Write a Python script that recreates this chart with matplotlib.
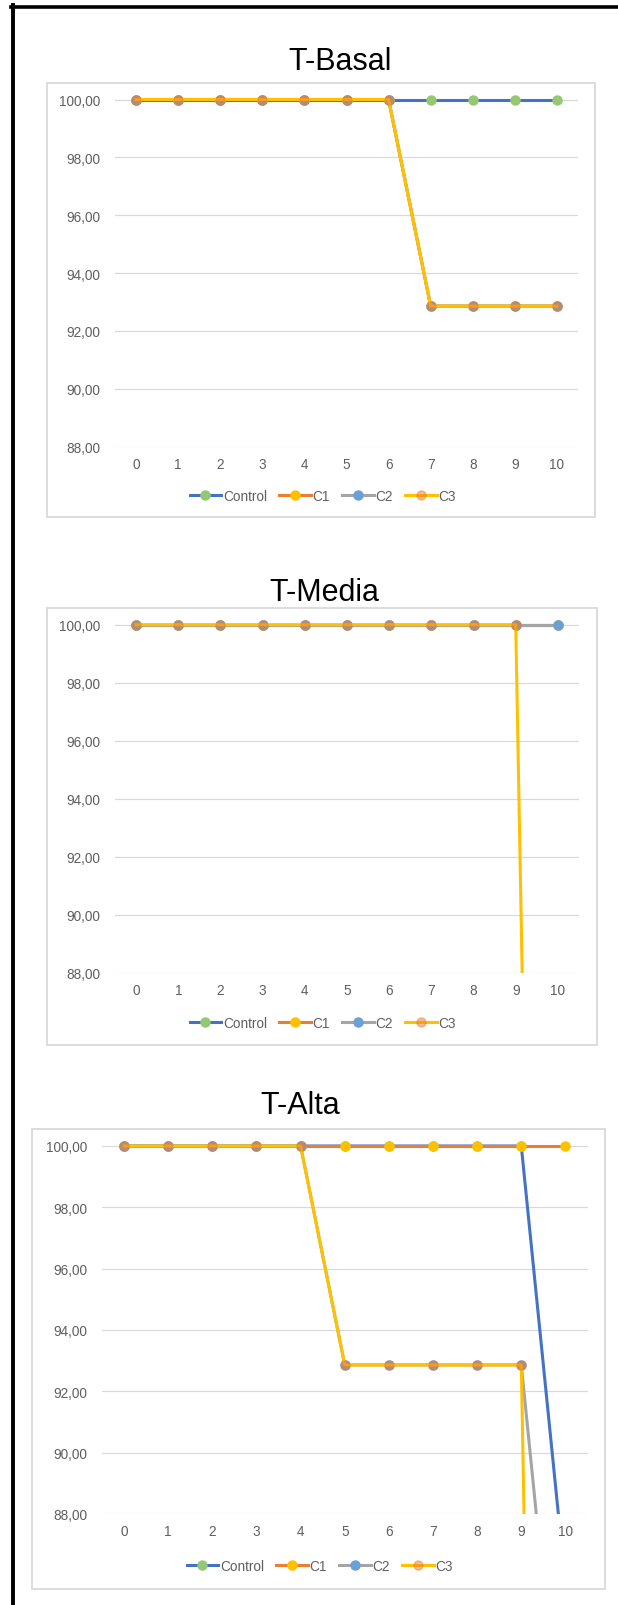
import matplotlib.pyplot as plt
from matplotlib.lines import Line2D
from matplotlib.patches import Rectangle
from matplotlib.ticker import FuncFormatter, MultipleLocator

plt.rcParams['font.family'] = ['Liberation Sans', 'DejaVu Sans']

W, H = 618, 1606

days = [0, 1, 2, 3, 4, 5, 6, 7, 8, 9, 10]
series_names = ["Control", "C1", "C2", "C3"]

# survival (%) per group
basal_control = [100, 100, 100, 100, 100, 100, 100, 100, 100, 100, 100]
basal_c1 = [100, 100, 100, 100, 100, 100, 100, 92.86, 92.86, 92.86, 92.86]
basal_c2 = [100, 100, 100, 100, 100, 100, 100, 92.86, 92.86, 92.86, 92.86]
basal_c3 = [100, 100, 100, 100, 100, 100, 100, 92.86, 92.86, 92.86, 92.86]

media_control = [100, 100, 100, 100, 100, 100, 100, 100, 100, 100, 100]
media_c1 = [100, 100, 100, 100, 100, 100, 100, 100, 100, 100, 100]
media_c2 = [100, 100, 100, 100, 100, 100, 100, 100, 100, 100, 100]
media_c3 = [100, 100, 100, 100, 100, 100, 100, 100, 100, 100, 21.43]

alta_control = [100, 100, 100, 100, 100, 100, 100, 100, 100, 100, 85.71]
alta_c1 = [100, 100, 100, 100, 100, 100, 100, 100, 100, 100, 100]
alta_c2 = [100, 100, 100, 100, 100, 92.86, 92.86, 92.86, 92.86, 92.86, 78.57]
alta_c3 = [100, 100, 100, 100, 100, 92.86, 92.86, 92.86, 92.86, 92.86, 14.29]

titles = ["T-Basal", "T-Media", "T-Alta"]
panel_data = [
    [basal_control, basal_c1, basal_c2, basal_c3],
    [media_control, media_c1, media_c2, media_c3],
    [alta_control, alta_c1, alta_c2, alta_c3],
]

line_colors = ["#4472C4", "#ED7D31", "#A5A5A5", "#FFC000"]
marker_colors = ["#95C872", "#FFC000", "#6B9FD8", (0.93, 0.49, 0.19, 0.5)]
grey_text = "#5F5F5F"
grid_grey = "#D9D9D9"

# pixel geometry of each chart: plot left/right, y of 100 and 88,
# chart box (l, r, t, b), title centre, legend centre
layouts = [
    dict(pl=115, pr=578, y100=100.5, y88=447.7, box=(47, 595, 84, 518),
         title=(340, 61.5), leg=(323, 497)),
    dict(pl=115, pr=579, y100=625.7, y88=974, box=(47, 597, 609, 1046),
         title=(324, 593), leg=(323, 1024)),
    dict(pl=102, pr=587.5, y100=1147, y88=1515, box=(31.5, 605, 1130, 1590),
         title=(300, 1106), leg=(320, 1567)),
]

fig = plt.figure(figsize=(W / 100, H / 100), dpi=100)

# outer frame (left and top edges)
fig.add_artist(Line2D([13 / W, 13 / W], [0, 1 - 6 / H], color="black", lw=2.8,
                      transform=fig.transFigure))
fig.add_artist(Line2D([11 / W, 1], [1 - 8 / H, 1 - 8 / H], color="black", lw=2.6,
                      transform=fig.transFigure))

comma_fmt = FuncFormatter(lambda v, _: f"{v:.2f}".replace(".", ","))

for title, data, lay in zip(titles, panel_data, layouts):
    bl, br, bt, bb = lay["box"]
    fig.add_artist(Rectangle((bl / W, 1 - bb / H), (br - bl) / W, (bb - bt) / H,
                             transform=fig.transFigure, fill=False,
                             ec=grid_grey, lw=1.3))

    ppu = (lay["y88"] - lay["y100"]) / 12
    top = lay["y100"] - 0.5 * ppu
    ax = fig.add_axes([lay["pl"] / W, 1 - lay["y88"] / H,
                       (lay["pr"] - lay["pl"]) / W, (lay["y88"] - top) / H])

    for i, vals in enumerate(data):
        ax.plot(days, vals, color=line_colors[i], lw=2.2, marker="o", ms=6.5,
                mfc=marker_colors[i], mec=marker_colors[i], zorder=3 + i)

    ax.set_xlim(-0.5, 10.5)
    ax.set_ylim(88, 100.5)
    ax.set_xticks(days)
    ax.yaxis.set_major_locator(MultipleLocator(2))
    ax.yaxis.set_major_formatter(comma_fmt)
    ax.yaxis.grid(True, color=grid_grey, lw=0.9)
    ax.set_axisbelow(True)
    for s in ax.spines.values():
        s.set_visible(False)
    ax.tick_params(axis="both", length=0, colors=grey_text, labelsize=9.8)
    ax.tick_params(axis="y", pad=10.5)
    ax.tick_params(axis="x", pad=7.5)

    fig.text(lay["title"][0] / W, 1 - lay["title"][1] / H, title, fontsize=22,
             ha="center", va="center", color="black")

    handles = [Line2D([], [], color=line_colors[i], lw=2.2, marker="o", ms=6.5,
                      mfc=marker_colors[i], mec=marker_colors[i])
               for i in range(4)]
    fig.legend(handles, series_names, loc="center",
               bbox_to_anchor=(lay["leg"][0] / W, 1 - lay["leg"][1] / H),
               ncol=4, frameon=False, fontsize=9.8, labelcolor=grey_text,
               handlelength=2.3, handletextpad=0.15, columnspacing=0.9)

fig.savefig("out.png", dpi=100)
